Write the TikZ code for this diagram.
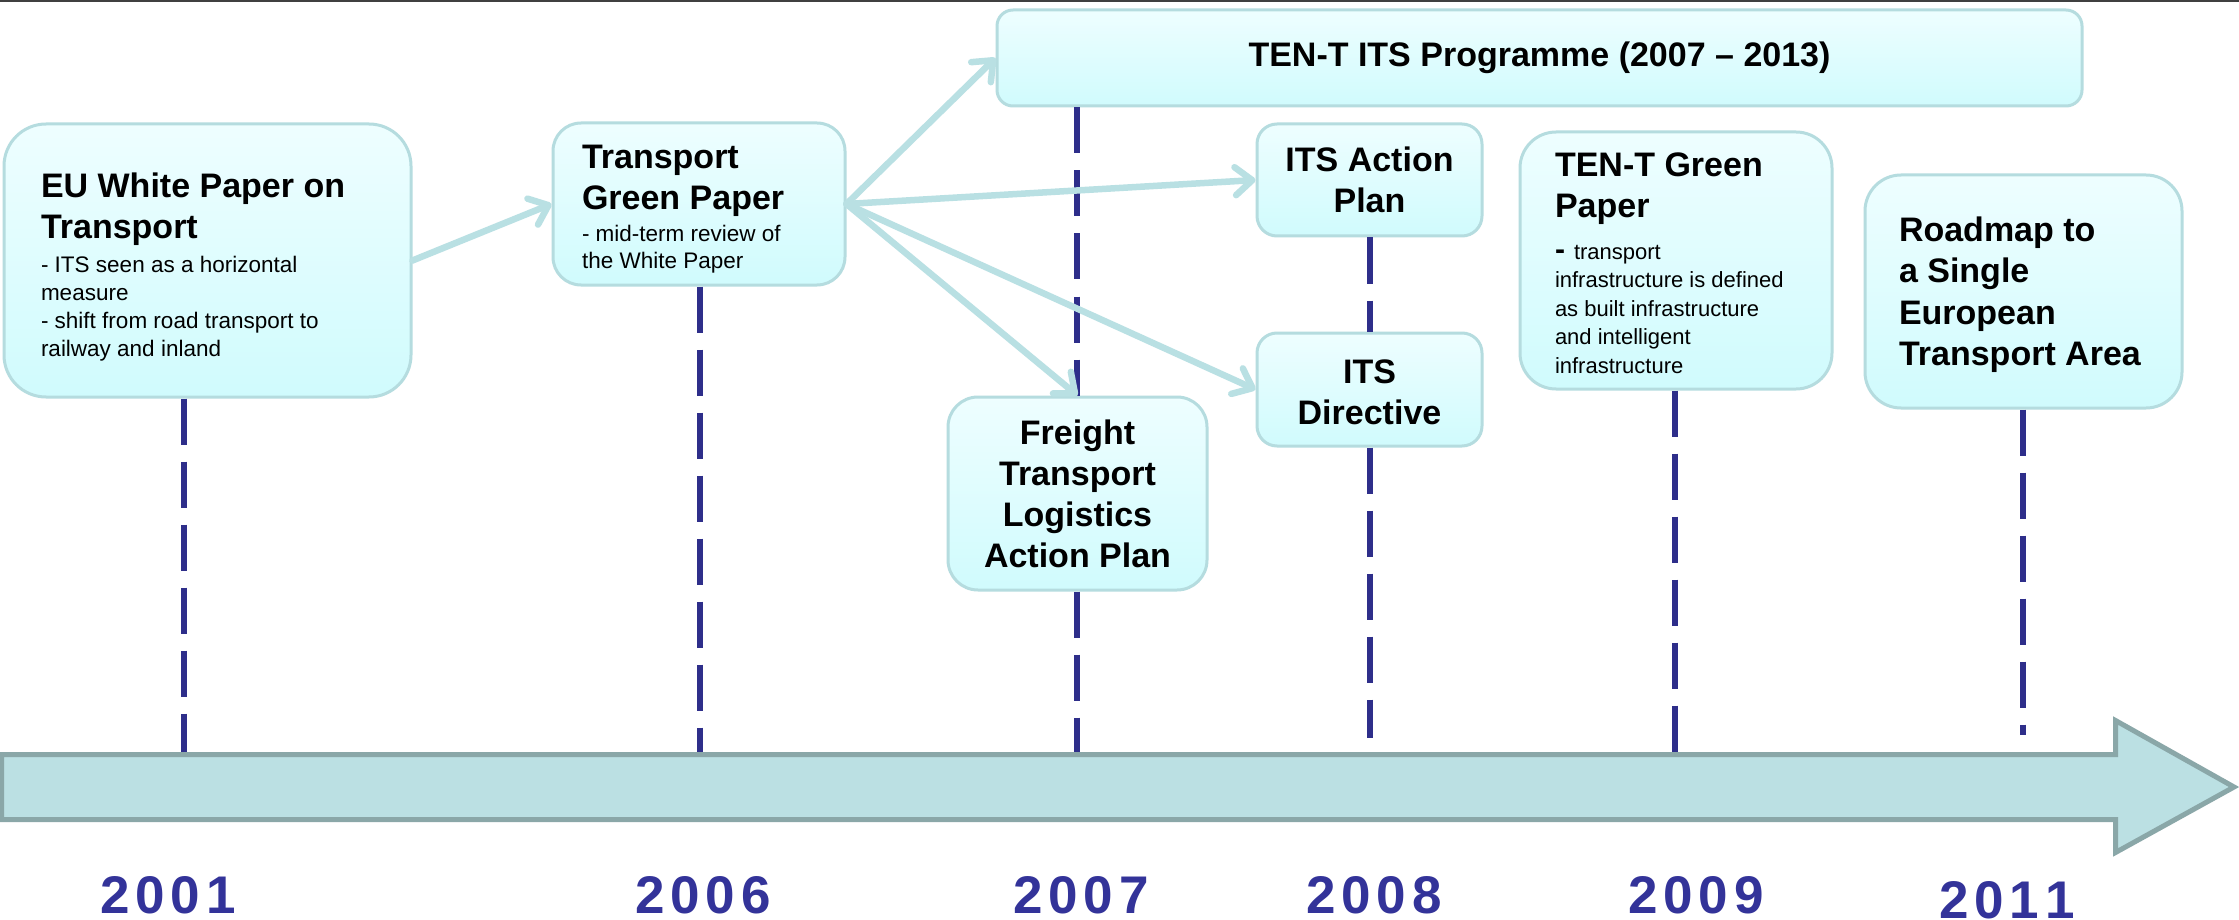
\documentclass[tikz,border=0pt]{standalone}
\usepackage{fontspec}
\setmainfont{Liberation Sans}
\usetikzlibrary{arrows.meta}
\definecolor{boxline}{HTML}{B5DCDF}
\definecolor{boxtop}{HTML}{EEFEFF}
\definecolor{boxbot}{HTML}{D0FBFD}
\definecolor{conn}{HTML}{B9E0E3}
\definecolor{tickc}{HTML}{2E2E8A}
\definecolor{yearc}{HTML}{333399}
\definecolor{arrfill}{HTML}{BBE0E3}
\definecolor{arrline}{HTML}{8AA7A8}
\newcommand\natspacing{\spaceskip=\fontdimen2\font\xspaceskip=\fontdimen2\font\relax}
\newcommand\boxtitle{\fontsize{34}{41}\selectfont\bfseries\natspacing}
\newcommand\boxsmall{\fontsize{22.5}{28}\selectfont\mdseries\natspacing}
\newcommand\topstrut[1]{\rule{0pt}{#1}}
\begin{document}
\begin{tikzpicture}[x=1pt,y=-1pt,
  evbox/.style={draw=boxline, line width=3pt, top color=boxtop, bottom color=boxbot,
    inner xsep=0pt, inner ysep=0pt},
  link/.style={draw=conn, line width=6.5pt, line cap=round,
    -{Straight Barb[length=17pt,width=28pt,round]}},
  tickline/.style={draw=tickc, line width=6pt, dash pattern=on 46pt off 17pt},
  yearlbl/.style={anchor=base, text=yearc, font=\fontsize{53}{60}\selectfont\bfseries}]

\useasboundingbox (0,0) rectangle (2239,920);
\fill[white] (0,0) rectangle (2239,920);
\draw[line width=2.5pt, black!75] (0,1.2) -- (2239,1.2);

% event boxes
\node[evbox, rounded corners=42pt, minimum width=407pt, minimum height=273pt,
  text width=333pt, align=left] (eu) at (207.5,260.5)
  {{\boxtitle\topstrut{37pt}EU White Paper on\\Transport\par}\vspace{6pt}%
   {\boxsmall - ITS seen as a horizontal\\measure\\- shift from road transport to\\railway and inland\par}};

\node[evbox, rounded corners=28pt, minimum width=292pt, minimum height=162pt,
  text width=234pt, align=left] (gp) at (699,204)
  {{\boxtitle\topstrut{33pt}Transport\\Green Paper\par}\vspace{5pt}%
   {\boxsmall\fontsize{22.5}{27}\selectfont\natspacing - mid-term review of\\the White Paper\par}};

\node[evbox, rounded corners=16pt, minimum width=1085pt, minimum height=96pt,
  text width=1085pt, align=center] (tenits) at (1539.5,58)
  {\raisebox{-13pt}{\boxtitle TEN-T ITS Programme (2007 – 2013)}};

\node[evbox, rounded corners=20pt, minimum width=225pt, minimum height=112pt,
  text width=225pt, align=center] (itsap) at (1369.5,180)
  {\boxtitle ITS Action\\Plan\par};

\node[evbox, rounded corners=20pt, minimum width=225pt, minimum height=113pt,
  text width=225pt, align=center] (itsdir) at (1369.5,389.5)
  {\boxtitle\topstrut{29pt}ITS\\Directive\par};

\node[evbox, rounded corners=30pt, minimum width=259pt, minimum height=193pt,
  text width=259pt, align=center] (freight) at (1077.5,493.5)
  {\boxtitle Freight\\Transport\\Logistics\\Action Plan\par};

\node[evbox, rounded corners=36pt, minimum width=312pt, minimum height=257pt,
  text width=242pt, align=left] (tengreen) at (1676,260.5)
  {{\boxtitle\topstrut{29pt}TEN-T Green\\Paper\par}\vspace{13pt}%
   {\boxsmall\fontsize{22}{28.5}\selectfont\natspacing{\fontsize{30}{28}\selectfont\bfseries -}\kern9pt transport\\infrastructure is defined\\as built infrastructure\\and intelligent\\infrastructure\par}};

\node[evbox, rounded corners=36pt, minimum width=317pt, minimum height=233pt,
  text width=249pt, align=left] (roadmap) at (2023.5,291.5)
  {{\boxtitle\fontsize{34}{41.5}\selectfont\topstrut{31pt}Roadmap to\\a Single\\European\\Transport Area\par}};

% timeline tick ends on the arrow
\coordinate (b2001) at (184,752);
\coordinate (b2006) at (700,752);
\coordinate (b2007) at (1077,752);
\coordinate (b2008) at (1370,738);
\coordinate (b2009) at (1675,752);
\coordinate (b2011) at (2023,735);

\draw[tickline] (eu.south -| b2001) -- (b2001);
\draw[tickline] (gp.south -| b2006) -- (b2006);
\draw[tickline] (tenits.south -| b2007) -- (freight.north -| b2007);
\draw[tickline] (freight.south -| b2007) -- (b2007);
\draw[tickline] (itsap.south -| b2008) -- (itsdir.north -| b2008);
\draw[tickline] (itsdir.south -| b2008) -- (b2008);
\draw[tickline] (tengreen.south -| b2009) -- (b2009);
\draw[tickline] (roadmap.south -| b2011) -- (b2011);

% connectors
\draw[link] (eu.east) -- (gp.west);
\draw[link] (gp.east) -- (tenits.west);
\draw[link] (gp.east) -- (itsap.west);
\draw[link] (gp.east) -- (freight.north);
\draw[link] (gp.east) -- (itsdir.west);

% big timeline arrow
\draw[draw=arrline, fill=arrfill, line width=5pt, line join=miter]
  (1.5,754.5) -- (2115.5,754.5) -- (2115.5,720.5) -- (2234,787)
  -- (2115.5,852.5) -- (2115.5,819.5) -- (1.5,819.5) -- cycle;

% years
\node[yearlbl] (y2001) at (168,913) {2\kern6pt0\kern6pt0\kern6pt1};
\node[yearlbl] (y2006) at (703,913) {2\kern6pt0\kern6pt0\kern6pt6};
\node[yearlbl] (y2007) at (1081,913) {2\kern6pt0\kern6pt0\kern6pt7};
\node[yearlbl] (y2008) at (1374,913) {2\kern6pt0\kern6pt0\kern6pt8};
\node[yearlbl] (y2009) at (1696,913) {2\kern6pt0\kern6pt0\kern6pt9};
\node[yearlbl] (y2011) at (2007,918) {2\kern6pt0\kern6pt1\kern6pt1};
\end{tikzpicture}
\end{document}
